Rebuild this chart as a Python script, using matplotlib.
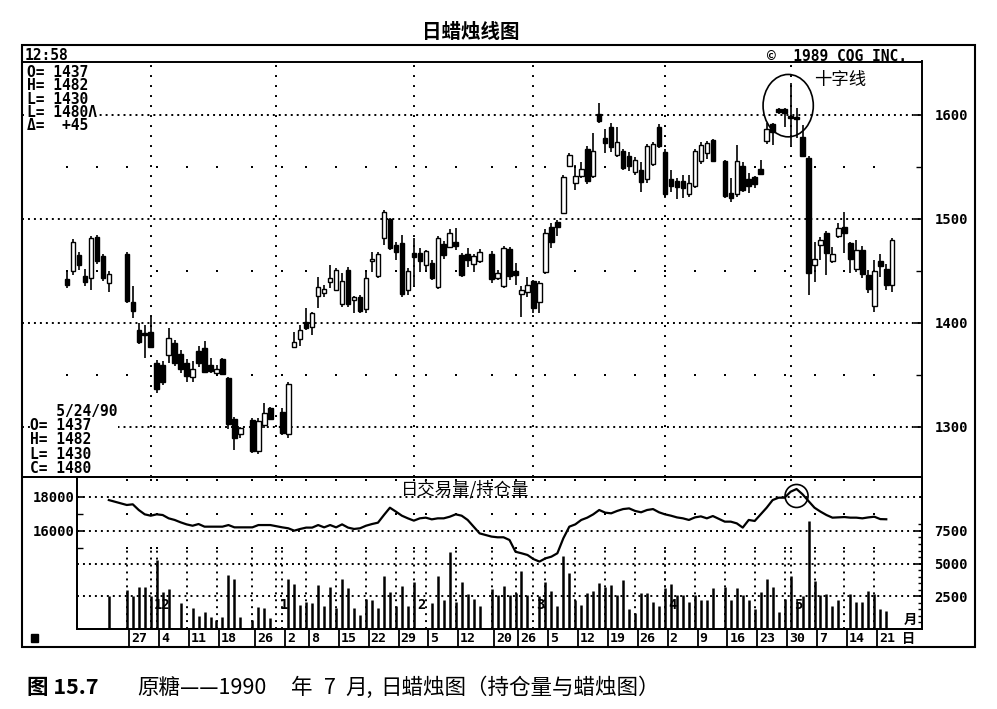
import numpy as np
import pandas as pd
import matplotlib
matplotlib.use("Agg")
import matplotlib.pyplot as plt
from matplotlib.patches import Ellipse, Rectangle

plt.rcParams['lines.scale_dashes'] = False
CJK = ['Noto Sans CJK SC', 'DejaVu Sans']
MONO = 'DejaVu Sans Mono'

# ---- data (raw sugar, July 1990 contract, daily) ----
first_day = '1989-11-13'
last_day = '1990-05-24'
holidays = ['1989-11-23', '1989-11-24', '1989-12-25', '1990-01-01',
            '1990-02-19', '1990-04-13']

opens = [1442, 1450, 1465, 1445, 1443, 1483, 1464, 1438,
         1466, 1420, 1393, 1390, 1391,
         1362, 1360, 1369, 1381, 1370,
         1362, 1348, 1373, 1376, 1360,
         1352, 1365, 1347, 1308, 1293,
         1307, 1277, 1302, 1318,
         1314, 1293, 1377, 1385,
         1401, 1396, 1426, 1429, 1439,
         1432, 1418, 1451, 1422, 1425,
         1413, 1460, 1445, 1482, 1500,
         1475, 1477, 1432, 1467, 1467,
         1456, 1458, 1435, 1476, 1473,
         1478, 1465, 1466, 1457, 1460,
         1466, 1443, 1436, 1471,
         1450, 1428, 1430, 1440, 1420,
         1449, 1492, 1497, 1506, 1551,
         1535, 1541, 1567, 1541, 1601,
         1578, 1588, 1562, 1565, 1561,
         1545, 1547, 1538, 1553, 1588,
         1564, 1538, 1537, 1537, 1524,
         1532, 1556, 1563, 1576,
         1556, 1525, 1524, 1551, 1538,
         1540, 1548, 1575, 1591, 1606,
         1606, 1599, 1598, 1579, 1559,
         1456, 1475, 1487, 1460, 1484,
         1492, 1477, 1452, 1470, 1446,
         1416, 1460, 1452, 1437]
highs = [1451, 1481, 1468, 1452, 1484, 1485, 1466, 1450,
         1468, 1436, 1400, 1398, 1406,
         1364, 1363, 1395, 1384, 1374,
         1365, 1363, 1378, 1383, 1366,
         1360, 1366, 1348, 1310, 1300,
         1309, 1309, 1323, 1319,
         1318, 1343, 1391, 1398,
         1414, 1411, 1444, 1437, 1456,
         1453, 1448, 1454, 1426, 1427,
         1451, 1468, 1468, 1509, 1501,
         1478, 1485, 1453, 1482, 1472,
         1470, 1461, 1484, 1479, 1490,
         1491, 1467, 1472, 1466, 1471,
         1469, 1451, 1474, 1473,
         1458, 1436, 1444, 1441, 1440,
         1490, 1496, 1499, 1542, 1563,
         1552, 1555, 1570, 1583, 1612,
         1587, 1592, 1588, 1567, 1564,
         1560, 1555, 1572, 1574, 1591,
         1567, 1547, 1539, 1542, 1542,
         1567, 1574, 1575, 1577,
         1557, 1539, 1571, 1555, 1544,
         1541, 1557, 1592, 1592, 1607,
         1607, 1631, 1607, 1590, 1561,
         1478, 1483, 1488, 1473, 1496,
         1507, 1478, 1480, 1474, 1451,
         1461, 1466, 1457, 1482]
lows = [1434, 1446, 1451, 1436, 1432, 1457, 1440, 1430,
        1419, 1405, 1380, 1366, 1376,
        1333, 1340, 1362, 1359, 1352,
        1343, 1343, 1358, 1352, 1352,
        1350, 1350, 1298, 1278, 1289,
        1275, 1274, 1299, 1307,
        1292, 1289, 1376, 1378,
        1393, 1388, 1414, 1425, 1434,
        1431, 1415, 1415, 1410, 1410,
        1410, 1449, 1443, 1475, 1470,
        1461, 1425, 1427, 1437, 1449,
        1451, 1441, 1433, 1462, 1472,
        1470, 1444, 1454, 1449, 1458,
        1438, 1441, 1434, 1441,
        1437, 1406, 1425, 1410, 1410,
        1447, 1472, 1484, 1505, 1550,
        1528, 1539, 1534, 1539, 1592,
        1563, 1564, 1560, 1547, 1546,
        1542, 1526, 1535, 1551, 1568,
        1520, 1526, 1519, 1520, 1521,
        1530, 1553, 1558, 1555,
        1520, 1516, 1521, 1526, 1525,
        1530, 1542, 1572, 1571, 1601,
        1588, 1571, 1578, 1560, 1427,
        1439, 1461, 1446, 1458, 1482,
        1467, 1448, 1449, 1443, 1429,
        1411, 1444, 1432, 1430]
closes = [1437, 1478, 1456, 1439, 1482, 1460, 1443, 1447,
          1421, 1412, 1382, 1388, 1377,
          1337, 1343, 1386, 1362, 1356,
          1349, 1356, 1362, 1353, 1354,
          1356, 1351, 1303, 1289, 1299,
          1277, 1306, 1313, 1308,
          1294, 1341, 1382, 1393,
          1395, 1410, 1435, 1433, 1443,
          1451, 1440, 1418, 1425, 1412,
          1443, 1462, 1466, 1507, 1472,
          1468, 1428, 1450, 1463, 1460,
          1469, 1443, 1482, 1465, 1487,
          1474, 1446, 1461, 1464, 1468,
          1442, 1448, 1472, 1445,
          1446, 1432, 1437, 1414, 1438,
          1487, 1478, 1492, 1540, 1562,
          1541, 1548, 1537, 1565, 1594,
          1573, 1569, 1574, 1549, 1551,
          1557, 1536, 1570, 1572, 1570,
          1524, 1532, 1531, 1530, 1535,
          1565, 1571, 1573, 1556,
          1522, 1520, 1556, 1528, 1532,
          1534, 1543, 1587, 1584, 1603,
          1602, 1597, 1596, 1561, 1448,
          1462, 1480, 1467, 1466, 1491,
          1487, 1462, 1470, 1447, 1433,
          1450, 1455, 1437, 1480]

nan = np.nan
volume = [nan, nan, nan, nan, nan, nan, nan, 2520,
          2980, 2520, 3240, 3240, 2520,
          5280, 2860, 3030, 0, 1960,
          0, 1580, 1020, 1275, 920,
          690, 920, 4130, 3800, 920,
          690, 1710, 1580, 820,
          0, 3800, 3470, 1840,
          2090, 1960, 3370, 1760, 3240,
          1630, 3800, 3110, 1630, 1070,
          2300, 2220, 1630, 4050, 2800,
          1785, 3290, 1785, 3620, 0,
          0, 1960, 4080, 2220, 5920,
          2090, 3620, 2650, 2295, 1785,
          3030, 2600, 3290, 2600,
          2730, 4440, 2600, 0, 2550,
          3620, 2930, 1785, 5580, 4260,
          2220, 1840, 2730, 2910, 3490,
          3240, 3370, 2600, 3720, 1530,
          1250, 2730, 2730, 2040, 1785,
          3160, 3420, 2600, 2600, 2040,
          2600, 2220, 2220, 3160,
          3240, 2220, 3110, 2600, 2220,
          1530, 2800, 3800, 3240, 1330,
          2295, 4050, 2040, 2550, 8260,
          3700, 2600, 2650, 1785, 2220,
          0, 2680, 2040, 2090, 2910,
          2680, 1530, 1400, nan]
open_interest = [nan, nan, nan, nan, nan, nan, nan, 17820,
                 17530, 17570, 17235, 16980, 16900,
                 16980, 16940, 16745, 16650, 16510,
                 16390, 16310, 16410, 16255, 16255,
                 16255, 16255, 16350, 16215, 16215,
                 16215, 16350, 16350, 16350,
                 16215, 16160, 16020, 16120,
                 16200, 16200, 16350, 16215, 16350,
                 16215, 16390, 16200, 16120, 16160,
                 16310, 16410, 16490, 16940, 17370,
                 17140, 16900, 16745, 16610, 16745,
                 16785, 16685, 16745, 16745, 16840,
                 16980, 16900, 16650, 16255, 15860,
                 15670, 15630, 15630, 15470,
                 14780, 14690, 14590, 14350, 14200,
                 14390, 14490, 14690, 15570, 16255,
                 16390, 16650, 16785, 16980, 17235,
                 17080, 17040, 17180, 17290, 17330,
                 17180, 17100, 17235, 17290, 17100,
                 16980, 16900, 16800, 16745, 16650,
                 16800, 16860, 16745, 16880,
                 16550, 16550, 16450, 16200, 16650,
                 16590, 16980, 17370, 17820, 17960,
                 17960, 18310, 18470, 18160, 17760,
                 17370, 17140, 16940, 16785, 16800,
                 16820, 16785, 16785, 16745, 16800,
                 16840, 16700, 16690, nan]

price_ticks = [1300, 1400, 1500, 1600]
price_minor = [1350, 1450, 1550]
vol_ticks = [2500, 5000, 7500]
oi_ticks = [16000, 18000]
oi_minor = [15000, 17000]
month_labels = ['12', '1', '2', '3', '4', '5']

# ---- calendar: one slot per weekday, holidays left empty ----
days = pd.bdate_range(first_day, last_day)
trade = days.difference(pd.DatetimeIndex(holidays))
xs = days.get_indexer(trade).astype(float)
o, h, l, c = (np.array(v, float) for v in (opens, highs, lows, closes))
vol = np.array(volume, float)
oi = np.array(open_interest, float)

month_x = [i for i in range(1, len(days)) if days[i].month != days[i - 1].month]
monday = trade - pd.to_timedelta(trade.weekday, unit='D')
first = np.r_[True, monday[1:] != monday[:-1]]
week_x = xs[first]
week_day = trade[first]
lab_mask = week_day >= pd.Timestamp('1989-11-27')

# ---- layout (pixel based) ----
W, H = 997, 709
PX0, STEP = 67.0, 5.98   # pixel of first slot, pixels per slot


def box(x0, y0, x1, y1):
    return [x0 / W, 1 - y1 / H, (x1 - x0) / W, (y1 - y0) / H]


def xlim_for(a, b):
    return ((a - PX0) / STEP, (b - PX0) / STEP)


fig = plt.figure(figsize=(W / 100, H / 100), dpi=100)
fig.patch.set_facecolor('white')

ax_p = fig.add_axes(box(22, 61.5, 922, 477))
ax_v = fig.add_axes(box(77, 477, 922, 629))
ax_vol = ax_v.twinx()
ax_d = fig.add_axes(box(22, 629, 922, 647))
ov = fig.add_axes([0, 0, 1, 1])
ov.set_xlim(0, W)
ov.set_ylim(H, 0)
ov.axis('off')

dense = (0, (1.4, 2.9))
month_ls = (0, (1.4, 5.8))

# ---- price panel ----
ax_p.set_xlim(*xlim_for(22, 922))
ax_p.set_ylim(1600 - (477 - 115) / 1.04, 1600 + (115 - 61.5) / 1.04)
for p in price_ticks:
    ax_p.axhline(p, color='black', lw=1.4, ls=dense, zorder=1)
for m in month_x:
    ax_p.axvline(m, color='black', lw=1.4, ls=month_ls, zorder=1)
ax_p.scatter(np.repeat(week_x, len(price_minor)),
             np.tile(price_minor, len(week_x)),
             s=3, marker='s', color='black', lw=0, zorder=1)

up = c >= o
ax_p.vlines(xs, l, h, color='black', lw=1.2, zorder=2)
ax_p.bar(xs, np.maximum(np.abs(c - o), 1.5), bottom=np.minimum(o, c),
         width=0.75, color=np.where(up, 'white', 'black'),
         edgecolor='black', linewidth=1.0, zorder=3)

k = int(np.argmax(h))
ax_p.add_patch(Ellipse((xs[k] - 0.4, 1609), 8.4, 60, fill=False,
                       lw=1.2, color='black', zorder=4))

ax_p.yaxis.tick_right()
ax_p.set_yticks(price_ticks)
ax_p.set_yticks(price_minor, minor=True)
ax_p.set_xticks([])
ax_p.tick_params(axis='y', which='major', direction='in', length=6,
                 width=1.2, pad=9, labelsize=10)
ax_p.tick_params(axis='y', which='minor', direction='in', length=4, width=1.0)
for t in ax_p.get_yticklabels():
    t.set_fontfamily(MONO)
    t.set_fontweight('bold')

# ---- volume / open interest panel ----
ax_v.set_xlim(*xlim_for(77, 922))
ax_v.set_ylim(16000 - 98 * 2000 / 34, 16000 + 54 * 2000 / 34)
ax_vol.set_ylim(0, 152 * 2500 / 32.7)

for v in oi_ticks:
    ax_v.axhline(v, color='black', lw=1.4, ls=dense, zorder=1)
for v in vol_ticks[:2]:
    ax_vol.axhline(v, color='black', lw=1.4, ls=dense, zorder=1)
vx = np.sort(np.r_[week_x[lab_mask], month_x])
ax_v.vlines(vx, ax_v.get_ylim()[0], 15000, color='black', lw=1.4,
            ls=(0, (1.4, 3.6)), zorder=1)
rows = [15000, 17000, 19000]
ax_v.scatter(np.repeat(vx, len(rows)), np.tile(rows, len(vx)),
             s=3, marker='s', color='black', lw=0, zorder=1)

ax_v.plot(xs, oi, color='black', lw=1.6, zorder=3)
ax_vol.vlines(xs, 0, vol, color='black', lw=1.8, zorder=2)

k2 = int(np.nanargmax(oi))
ax_v.add_patch(Ellipse((xs[k2], 18060), 3.85, 1353, fill=False,
                       lw=1.2, color='black', zorder=4))

for m, lab in zip(month_x, month_labels):
    ax_vol.text(m + 0.5, 1835, lab, ha='left', va='center', fontsize=10,
                family=MONO, fontweight='bold', zorder=5)

ax_v.set_xticks([])
ax_v.set_yticks(oi_ticks)
ax_v.set_yticks(oi_minor, minor=True)
ax_v.tick_params(axis='y', which='major', direction='in', length=5,
                 width=1.2, pad=2, labelsize=10)
ax_v.tick_params(axis='y', which='minor', direction='in', length=4, width=1.0)
for t in ax_v.get_yticklabels():
    t.set_fontfamily(MONO)
    t.set_fontweight('bold')
ax_vol.set_yticks(vol_ticks)
ax_vol.set_yticks(np.arange(500, 8001, 500), minor=True)
ax_vol.tick_params(axis='y', which='major', direction='in', length=6,
                   width=1.2, pad=9, labelsize=10)
ax_vol.tick_params(axis='y', which='minor', direction='in', length=3, width=1.0)
for t in ax_vol.get_yticklabels():
    t.set_fontfamily(MONO)
    t.set_fontweight('bold')

for a in (ax_p, ax_v, ax_vol):
    for s in a.spines.values():
        s.set_linewidth(1.4)
ax_vol.spines['top'].set_visible(False)

# ---- date strip ----
ax_d.set_xlim(*xlim_for(22, 922))
ax_d.set_ylim(0, 1)
ax_d.axis('off')
ax_d.vlines(week_x[lab_mask] + 0.45, 0, 1, color='black', lw=1.3)
for x, d in zip(week_x[lab_mask], week_day[lab_mask]):
    ax_d.text(x + 0.75, 0.45, str(d.day), ha='left', va='center',
              fontsize=9.5, family=MONO, fontweight='bold')

# ---- frame, header and texts ----
ov.add_patch(Rectangle((22, 45), 953, 602, fill=False, lw=1.5, color='black'))
ov.add_patch(Rectangle((31, 634), 7, 8, color='black'))

mono_kw = dict(family=MONO, fontweight='bold', fontsize=10.5, va='center', ha='left')
white = dict(facecolor='white', edgecolor='none', pad=0.1)
ov.text(25, 55.5, '12:58', **mono_kw)
ov.text(767, 55.5, '©  1989 CQG INC.', **mono_kw)

top_block = '\n'.join(['O= 1437', 'H= 1482', 'L= 1430', 'L= 1480Λ', 'Δ=  +45'])
ov.text(27, 99, top_block, linespacing=0.86, bbox=white, **mono_kw)
bottom_block = '\n'.join(['   5/24/90', 'O= 1437', 'H= 1482', 'L= 1430', 'C= 1480'])
ov.text(30, 440, bottom_block, linespacing=0.93, bbox=white, **mono_kw)
# keep the panel border visible under the text block
ov.plot([22, 120], [477, 477], color='black', lw=1.4)

ov.text(471, 32, '日蜡烛线图', ha='center', va='center', fontsize=14,
        fontweight='bold', family=CJK)
ov.text(840, 80, '十字线', ha='center', va='center', fontsize=12.5, family=CJK)
ov.text(465, 489, '日交易量/持仓量', ha='center', va='center', fontsize=12.5,
        family=CJK)
ov.text(910, 620, '月', ha='center', va='center', fontsize=9.5,
        fontweight='bold', family=CJK)
ov.text(909, 639, '日', ha='center', va='center', fontsize=9.5,
        fontweight='bold', family=CJK)

# caption, set in pieces to keep the wide book spacing
ov.text(27, 688, '图 15.7', ha='left', va='center', fontsize=15.5,
        fontweight='bold', family=CJK)
cap_parts = ['原糖——1990', '年', '7', '月,', '日蜡烛图（持仓量与蜡烛图）']
cap_x = [137, 291, 324, 345, 380]
for x, s in zip(cap_x, cap_parts):
    ov.text(x, 688, s, ha='left', va='center', fontsize=15.5, family=CJK)

fig.savefig('out.png', dpi=100)
